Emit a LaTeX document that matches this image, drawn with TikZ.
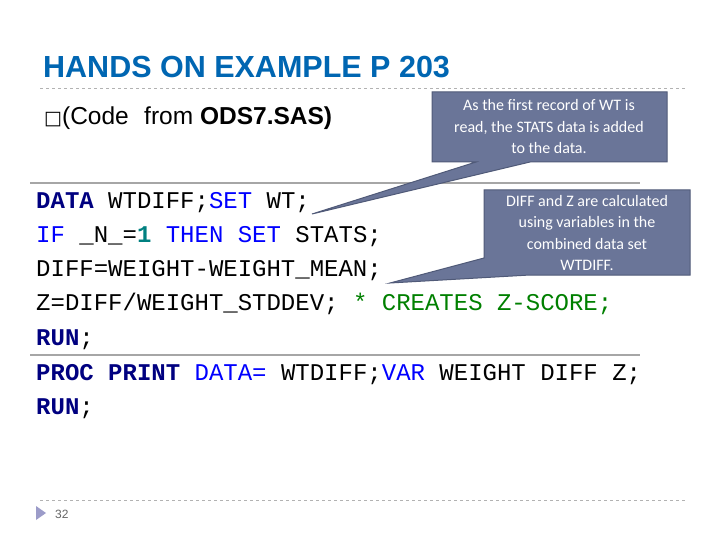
\documentclass[tikz,border=0pt]{standalone}
\usepackage{fontspec}
\setmainfont{Liberation Sans}
\newfontfamily\codefont{Liberation Mono}
\newfontfamily\callfont{Carlito}
\definecolor{titleblue}{RGB}{0,102,178}
\definecolor{callfill}{RGB}{106,117,152}
\definecolor{callborder}{RGB}{80,90,120}
\definecolor{navy}{RGB}{0,0,128}
\definecolor{kwblue}{RGB}{0,0,255}
\definecolor{teal2}{RGB}{0,128,128}
\definecolor{cmtgreen}{RGB}{0,128,0}
\begin{document}
\begin{tikzpicture}[x=1pt,y=-1pt,
  code/.style={anchor=base west,inner sep=0pt,font=\codefont\fontsize{24}{24}\selectfont},
  calltext/.style={align=center,text=white,font=\callfont\fontsize{16}{21.5}\selectfont},
  callshape/.style={fill=callfill,draw=callborder,line width=1pt}]
\useasboundingbox (0,0) rectangle (720,540);
\fill[white] (0,0) rectangle (720,540);
\node[anchor=base west,inner sep=0pt,text=titleblue,font=\bfseries\fontsize{30.5}{30}\selectfont] (title) at (43,78) {HANDS ON EXAMPLE P 203};
\draw[gray!60,dashed] (40,88) -- (685,88);
\node[anchor=base west,inner sep=0pt,font=\fontsize{24.5}{24}\selectfont] (sub) at (44,125) {{\fontspec{DejaVu Sans}\fontsize{19}{19}\selectfont □}(Code\hspace{0.35em} from \textbf{ODS7.SAS)}};
% separators
\draw[gray!70,line width=1.2pt] (30,183) -- (640,183);
\draw[gray!70,line width=1.2pt] (30,355) -- (640,355);
% code
\node[code] (l1) at (36,208) {\textcolor{navy}{\textbf{DATA}} WTDIFF;\textcolor{kwblue}{SET} WT;};
\node[code] (l2) at (36,242) {\textcolor{kwblue}{IF} \_N\_=\textcolor{teal2}{\textbf{1}} \textcolor{kwblue}{THEN SET} STATS;};
\node[code] (l3) at (36,276) {DIFF=WEIGHT-WEIGHT\_MEAN;};
\node[code] (l4) at (36,310) {Z=DIFF/WEIGHT\_STDDEV; \textcolor{cmtgreen}{* CREATES Z-SCORE;}};
\node[code] (l5) at (36,345) {\textcolor{navy}{\textbf{RUN}};};
\node[code] (l6) at (36,380) {\textcolor{navy}{\textbf{PROC PRINT}} \textcolor{kwblue}{DATA=} WTDIFF;\textcolor{kwblue}{VAR} WEIGHT DIFF Z;};
\node[code] (l7) at (36,414) {\textcolor{navy}{\textbf{RUN}};};
% callout 1
\coordinate (p1) at (312,214);
\draw[callshape] (432,92) -- (667,92) -- (667,162) -- (530,162) -- (p1) -- (476,162) -- (432,162) -- cycle;
\node[calltext] (c1) at (549,127) {As the first record of WT is\\read, the STATS data is added\\to the data.};
% callout 2
\coordinate (p2) at (390,283);
\draw[callshape] (484,190) -- (690,190) -- (690,275) -- (530,275) -- (p2) -- (484,258) -- cycle;
\node[calltext] (c2) at (587,233) {DIFF and Z are calculated\\using variables in the\\combined data set\\WTDIFF.};
% footer
\draw[gray!60,dashed] (40,500) -- (685,500);
\fill[gray!70!blue!60] (36,506) -- (46,513) -- (36,520) -- cycle;
\node[anchor=base west,inner sep=0pt,text=gray!80!black,font=\fontsize{12}{12}\selectfont] (pg) at (55,518) {32};
\end{tikzpicture}
\end{document}
